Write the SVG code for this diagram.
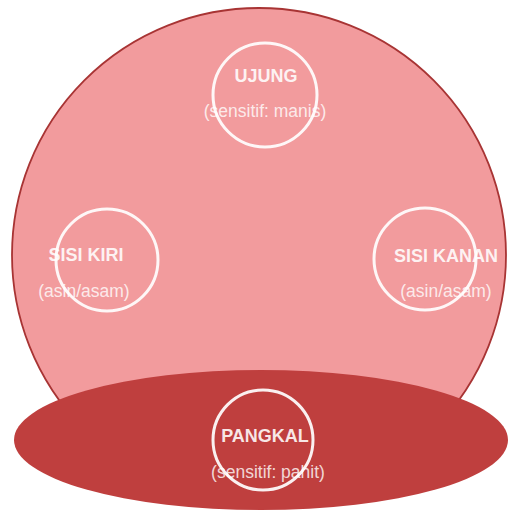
<svg xmlns="http://www.w3.org/2000/svg" width="510" height="510" viewBox="0 0 510 510">
<style>
.lbl{font-family:"Liberation Sans",Arial,sans-serif;font-size:18px;font-weight:bold;fill:#fff;fill-opacity:0.88;text-anchor:middle}
.sub{font-family:"Liberation Sans",Arial,sans-serif;font-size:17.5px;fill:#fff;fill-opacity:0.8;text-anchor:middle}
.ring{fill:none;stroke:#fff;stroke-opacity:0.92;stroke-width:3}
</style>
<rect width="510" height="510" fill="#fff"/>
<g id="lidah">
<circle cx="259" cy="255" r="247" fill="#F29B9D" stroke="#A83434" stroke-width="1.8"/>
</g>
<g id="pangkal-base">
<ellipse cx="261" cy="440" rx="247" ry="70" fill="#BF3F3E"/>
</g>
<g id="ujung">
<text class="lbl" x="266" y="82">UJUNG</text>
<text class="sub" x="265" y="117">(sensitif: manis)</text>
<circle class="ring" cx="265" cy="95" r="52"/>
</g>
<g id="sisi-kiri">
<text class="lbl" x="86" y="261">SISI KIRI</text>
<text class="sub" x="84" y="297">(asin/asam)</text>
<circle class="ring" cx="107" cy="260" r="51"/>
</g>
<g id="sisi-kanan">
<text class="lbl" x="446" y="262">SISI KANAN</text>
<text class="sub" x="446" y="297">(asin/asam)</text>
<circle class="ring" cx="425" cy="259" r="51"/>
</g>
<g id="pangkal">
<text class="lbl" x="265" y="442">PANGKAL</text>
<text class="sub" x="268" y="478">(sensitif: pahit)</text>
<circle class="ring" cx="263" cy="440" r="50"/>
</g>
<g id="connectors"/>
</svg>
